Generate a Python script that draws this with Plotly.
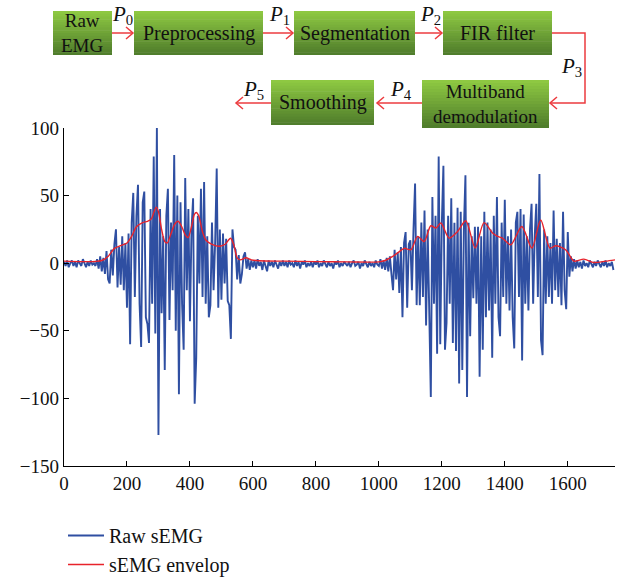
import plotly.graph_objects as go
import numpy as np

# ---------------- data ----------------
raw_step = 5  # sample spacing of the transcribed raw signal
raw_values = [
    # 0-95
    1, -2, 2, -3, 0, 2, -2, 1, -3, 2, 0, -2, 3, -1, -3, 1, -2, 2, -1, 0,
    # 100-195
    -2, 3, -4, 5, -6, 4, -8, 9, -12, -15, 10, -9, 14, 25, -18, 12, -16, 20, -20, 15,
    # 200-295
    -33, 22, -60, 30, 52, -25, 35, 58, -30, -62, 45, 53, -40, -45, -59, 40, -30, 79, -52, 100,
    # 300-395
    -127, 40, -37, 20, -79, 35, 55, -42, 30, -20, 80, -50, 50, -97, 45, -30, -64, 63, -20, 40,
    # 400-495
    -43, 25, 48, -104, -70, 35, -15, 55, -25, 60, -30, 20, -40, -31, 30, -20, 15, 70, -33, 25,
    # 500-595
    -27, 22, -15, 18, -28, -31, -56, 25, 12, 10, -12, 6, -15, -8, 5, 8, -4, 3, -5, 2,
    # 600-695
    -3, 2, -4, 3, -2, 1, -5, 2, -3, -6, 2, -2, 1, -3, 2, -1, -4, 1, -2, 2,
    # 700-795
    -2, 1, -3, 2, -1, 0, -3, 2, -2, 1, -4, 1, -1, 2, -3, 0, -2, 1, -3, 1,
    # 800-895
    -1, 2, -3, 0, -2, 2, -1, -3, 1, -2, 0, -4, 1, -1, 2, -3, 0, -2, 1, -1,
    # 900-995
    -2, 1, -3, 0, 2, -2, -1, 1, -4, 0, -2, 2, -1, -3, 1, -2, 0, -3, 2, -1,
    # 1000-1095
    -2, 3, -4, 2, -5, 4, -6, 5, -8, -20, 10, -12, 8, -22, 12, -40, 15, 23, -33, 14,
    # 1100-1195
    17, -20, 25, 59, -31, 20, -31, 30, -25, 39, -46, 25, -35, -99, 49, -30, 35, -67, 79, -60,
    # 1200-1295
    30, 72, -64, -44, 35, -30, 48, -59, 30, -65, 41, -89, 38, -79, 25, 65, -99, 30, -54, 20,
    # 1300-1395
    -26, 27, -30, 27, -84, 20, -64, 38, -40, 30, -35, 25, -70, 35, -30, 49, -40, -54, 30, -25,
    # 1400-1495
    47, -30, 20, -35, 25, -40, -63, 30, 38, -25, 40, -72, 36, -30, 20, -35, 25, 44, -30, 20,
    # 1500-1595
    44, -25, 66, -57, -68, 25, -30, 20, -25, 15, -30, 39, -20, 18, -25, 15, -31, 38, -20, -34,
    # 1600-1695
    23, -10, 5, -6, 3, -4, 2, -3, 1, -4, 2, -2, 0, -3, 2, -1, -3, 1, -2, 2,
    # 1700-1745
    -1, -3, 1, -2, 2, -3, 0, -2, 1, -5,
]
raw_x = np.arange(len(raw_values)) * raw_step

env_x = [0, 50, 100, 120, 140, 160, 180, 200, 215, 230,
         250, 265, 278, 286, 293, 300, 310, 320, 328, 340,
         352, 362, 372, 385, 394, 405, 414, 420, 428, 440,
         451, 470, 494, 512, 529, 540, 550, 560, 578, 595,
         620, 700, 800, 900, 1000, 1020, 1044, 1062, 1081, 1102,
         1123, 1144, 1165, 1181, 1197, 1223, 1250, 1276, 1306, 1334,
         1361, 1377, 1392, 1419, 1454, 1486, 1514, 1543, 1562, 1593,
         1620, 1651, 1683, 1720, 1750]
env_y = [1.5, 1.2, 1.3, 2, 5, 11, 13, 15, 20, 27,
         30, 31, 33, 38, 41.5, 38, 25, 16, 15, 22,
         29, 31, 28, 21, 19, 27, 36, 37.5, 35, 23,
         17, 14, 12.5, 14, 18.5, 13, 4, 2.5, 4, 2.5,
         1.8, 1.5, 1.2, 1.0, 1.0, 2, 5, 8, 11, 10,
         19.8, 16, 27.7, 26, 29.7, 18.6, 23.5, 31.4, 11.2, 30,
         22.3, 19.8, 18.6, 13.6, 27.2, 11.2, 32, 11.2, 12.9, 10,
         1.5, 3, 0.5, 1.5, 2.5]

x_ticks = [0, 200, 400, 600, 800, 1000, 1200, 1400, 1600]
y_ticks = [-150, -100, -50, 0, 50, 100]
series_names = ["Raw sEMG", "sEMG envelop"]

# flowchart content
steps = ["Raw<br>EMG", "Preprocessing", "Segmentation", "FIR filter",
         "Multiband<br>demodulation", "Smoothing"]
stage_labels = ["0", "1", "2", "3", "4", "5"]

# ---------------- styling ----------------
FONT = "Liberation Serif"
BLUE = "#2f4fa2"
RED = "#e8232b"
ARROW = "#ec3b3f"
FIG_W, FIG_H = 627, 580
L, R, T, B = 64, 615, 128, 466   # plot area in pixels


def px(x):
    return (x - L) / (R - L)


def py(y):
    return (B - y) / (B - T)


fig = go.Figure()
fig.add_trace(go.Scatter(x=raw_x, y=raw_values, mode="lines", name=series_names[0],
                         line=dict(color=BLUE, width=1.9), legendgroup="a"))
fig.add_trace(go.Scatter(x=env_x, y=env_y, mode="lines", name=series_names[1],
                         line=dict(color=RED, width=1.4, shape="spline", smoothing=0.8),
                         legendgroup="b"))

shapes = []
annotations = []

top_c = np.array([142, 200, 66])
bot_c = np.array([80, 126, 44])


def add_box(x0, y0, x1, y1, text, ty, size):
    n = 16
    for i in range(n):
        f = i / (n - 1)
        c = (top_c * (1 - f) + bot_c * f).astype(int)
        ya = y0 + (y1 - y0) * i / n
        yb = y0 + (y1 - y0) * (i + 1) / n + 0.6
        shapes.append(dict(type="rect", xref="paper", yref="paper",
                           x0=px(x0), x1=px(x1), y0=py(min(yb, y1)), y1=py(ya),
                           line=dict(width=0),
                           fillcolor="rgb(%d,%d,%d)" % tuple(c), layer="above"))
    cx = (x0 + x1) / 2
    annotations.append(dict(text=text, x=px(cx), y=py(ty), xref="paper", yref="paper",
                            showarrow=False, xanchor="center", yanchor="middle",
                            font=dict(family=FONT, size=size, color="#111")))


add_box(53, 11, 112, 55, steps[0], 33, 19)
add_box(134, 11, 263, 55, steps[1], 33, 20)
add_box(294, 11, 415, 55, steps[2], 33, 20)
add_box(443, 11, 552, 55, steps[3], 33, 20)
add_box(422, 80, 549, 128, steps[4], 104, 19)
add_box(271, 80, 374, 125, steps[5], 103, 20)


def pline(pts):
    d = "M " + " L ".join("%f,%f" % (px(a), py(b)) for a, b in pts)
    shapes.append(dict(type="path", path=d, xref="paper", yref="paper",
                       line=dict(color=ARROW, width=1.5), layer="above"))


def arrow(pts):
    pline(pts)
    (xa, ya), (xe, ye) = pts[-2], pts[-1]
    s = 1 if xe > xa else -1
    pline([(xe - s * 7, ye - 6), (xe, ye), (xe - s * 7, ye + 6)])


arrow([(112, 33), (133, 33)])
arrow([(263, 33), (293, 33)])
arrow([(415, 33), (442, 33)])
arrow([(552, 33), (585, 33), (585, 103), (550, 103)])
arrow([(422, 103), (377, 103)])
arrow([(271, 103), (236, 103)])

for lab, (lx, ly) in zip(stage_labels, [(122, 15), (279, 15), (430, 15),
                                        (571, 67), (401, 90), (253, 90)]):
    annotations.append(dict(text="<i>P</i><sub>%s</sub>" % lab, x=px(lx), y=py(ly),
                            xref="paper", yref="paper", showarrow=False,
                            xanchor="center", yanchor="middle",
                            font=dict(family=FONT, size=21, color="#111")))

axis_common = dict(showgrid=False, zeroline=False, showline=True, linecolor="black",
                   linewidth=1.3, ticks="inside", ticklen=5, tickwidth=1.2,
                   tickcolor="black", automargin=False,
                   tickfont=dict(family=FONT, size=19, color="#111"))

fig.update_layout(
    width=FIG_W, height=FIG_H,
    margin=dict(l=L, r=FIG_W - R, t=T, b=FIG_H - B, pad=0, autoexpand=False),
    paper_bgcolor="white", plot_bgcolor="white",
    xaxis=dict(range=[0, 1750], tickvals=x_ticks, **axis_common),
    yaxis=dict(range=[-150, 100], tickvals=y_ticks, **axis_common),
    shapes=shapes, annotations=annotations,
    showlegend=True,
    legend=dict(x=px(63), y=py(516), xanchor="left", yanchor="top",
                font=dict(family=FONT, size=20, color="#111"),
                bgcolor="rgba(0,0,0,0)", itemwidth=36,
                tracegroupgap=0, traceorder="grouped"),
)

fig.write_html("out.html", config={"displayModeBar": False},
               post_script="document.body.style.margin='0px';")
